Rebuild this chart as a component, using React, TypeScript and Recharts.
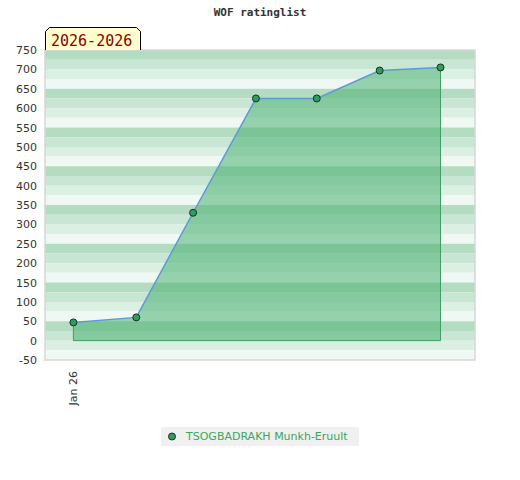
import React from "react";
import {
  Area,
  ComposedChart,
  ReferenceArea,
  ReferenceLine,
  XAxis,
  YAxis,
} from "recharts";

const dates = [
  "2026-01-01",
  "2026-02-01",
  "2026-03-01",
  "2026-04-01",
  "2026-05-01",
  "2026-06-01",
  "2026-07-01",
];
const ratings = [47, 60, 330, 625, 625, 697, 705];
const xTicks = ["2026-01-01"];
const xTickLabels = ["Jan 26"];
const yTicks = [-50, 0, 50, 100, 150, 200, 250, 300, 350, 400, 450, 500, 550, 600, 650, 700, 750];
const playerName = "TSOGBADRAKH Munkh-Eruult";
const title = "WOF ratinglist";
const period = "2026-2026";

const DAY = 86400000;
const START = Date.UTC(2026, 0, 1);
const toDay = (d: string) => (Date.parse(d + "T00:00:00Z") - START) / DAY;

const data = dates.map((d, i) => ({ t: toDay(d), rating: ratings[i] }));
const first = data[0];
const last = data[data.length - 1];

// 4 shades repeating every 100 points, darkest on top
const STRIPES = ["#b3dcc1", "#c8e6d3", "#dcefe3", "#f0f8f3"];
const bands: { y1: number; y2: number; fill: string }[] = [];
for (let top = 750, i = 0; top > -50; top -= 25, i++) {
  bands.push({ y1: top - 25, y2: top, fill: STRIPES[i % 4] });
}

const FONT = "'DejaVu Sans', sans-serif";
const MONO = "'DejaVu Sans Mono', monospace";

function LeftTick({ x, y, payload }: any) {
  return (
    <text x={x - 8} y={y + 4} textAnchor="end" fontSize={11} fontFamily={FONT} fill="#333">
      {payload.value}
    </text>
  );
}

function RightTick({ x, y, payload }: any) {
  const labelled = Math.abs(payload.value % 100) === 50;
  return (
    <g>
      <line x1={x - 4} x2={x} y1={y} y2={y} stroke="#222" strokeWidth={1} />
      {labelled && (
        <text x={x + 7} y={y + 4} textAnchor="start" fontSize={11} fontFamily={FONT} fill="#333">
          {payload.value}
        </text>
      )}
    </g>
  );
}

function BottomTick({ x, y, payload }: any) {
  const idx = xTicks.findIndex((d) => toDay(d) === payload.value);
  return (
    <text
      x={x + 4}
      y={y + 11}
      textAnchor="end"
      fontSize={11}
      fontFamily={FONT}
      fill="#333"
      transform={`rotate(-90, ${x + 4}, ${y + 11})`}
    >
      {idx >= 0 ? xTickLabels[idx] : ""}
    </text>
  );
}

export default function App() {
  return (
    <div style={{ position: "absolute", left: 0, top: 0, width: 520, height: 480, background: "#fff" }}>
      <ComposedChart
        width={520}
        height={480}
        data={data}
        margin={{ top: 50, right: 0, bottom: 60, left: 0 }}
      >
        <XAxis
          dataKey="t"
          type="number"
          domain={[-14, 198]}
          ticks={xTicks.map(toDay)}
          tick={<BottomTick />}
          tickLine={false}
          axisLine={false}
          tickSize={0}
          tickMargin={0}
          height={60}
        />
        <YAxis
          yAxisId="left"
          domain={[-50, 750]}
          ticks={yTicks}
          tick={<LeftTick />}
          tickLine={false}
          axisLine={false}
          tickSize={0}
          tickMargin={0}
          width={45}
          interval={0}
        />
        <YAxis
          yAxisId="right"
          orientation="right"
          domain={[-50, 750]}
          ticks={yTicks}
          tick={<RightTick />}
          tickLine={false}
          axisLine={false}
          tickSize={0}
          tickMargin={0}
          width={45}
          interval={0}
        />
        {bands.map((b) => (
          <ReferenceArea
            key={b.y2}
            yAxisId="left"
            y1={b.y1}
            y2={b.y2}
            fill={b.fill}
            fillOpacity={1}
            stroke="none"
          />
        ))}
        <ReferenceArea
          yAxisId="left"
          y1={-50}
          y2={750}
          fill="none"
          stroke="#d6d6d6"
          strokeWidth={1.5}
        />
        <Area
          yAxisId="left"
          dataKey="rating"
          type="linear"
          baseValue={0}
          stroke="#5b9bd5"
          strokeWidth={1.5}
          fill="#4ab072"
          fillOpacity={0.54}
          dot={{ r: 3.5, fill: "#2f9e5c", stroke: "#1c2e22", strokeWidth: 1, fillOpacity: 1 }}
          activeDot={false}
          isAnimationActive={false}
        />
        <ReferenceLine
          yAxisId="left"
          segment={[{ x: first.t, y: 0 }, { x: first.t, y: first.rating }]}
          stroke="#3f9e62"
          strokeWidth={1}
        />
        <ReferenceLine
          yAxisId="left"
          segment={[{ x: last.t, y: 0 }, { x: last.t, y: last.rating }]}
          stroke="#3f9e62"
          strokeWidth={1}
        />
        <ReferenceLine
          yAxisId="left"
          segment={[{ x: first.t, y: 0 }, { x: last.t, y: 0 }]}
          stroke="#3f9e62"
          strokeWidth={1}
        />
      </ComposedChart>

      <div
        style={{
          position: "absolute",
          left: 0,
          top: 6,
          width: 520,
          textAlign: "center",
          fontFamily: MONO,
          fontWeight: "bold",
          fontSize: 11,
          color: "#333",
        }}
      >
        {title}
      </div>

      <svg style={{ position: "absolute", left: 0, top: 0 }} width={160} height={60}>
        <path d="M45.5,50 V31.5 L49.5,27.5 H136.5 L140.5,31.5 V50" fill="#ffffcc" stroke="#000" strokeWidth={1} />
        <text x={51} y={46} fontFamily={MONO} fontSize={15} fill="#8b0000">
          {period}
        </text>
      </svg>

      <div
        style={{
          position: "absolute",
          left: 161,
          top: 427,
          width: 198,
          height: 19,
          background: "#f0f0f0",
          display: "flex",
          alignItems: "center",
          fontFamily: FONT,
          fontSize: 11,
          color: "#3aa65f",
        }}
      >
        <svg width={25} height={19} style={{ flex: "none" }}>
          <circle cx={11} cy={9.5} r={3.5} fill="#2f9e5c" stroke="#1c2e22" strokeWidth={1} />
        </svg>
        <span>{playerName}</span>
      </div>
    </div>
  );
}
